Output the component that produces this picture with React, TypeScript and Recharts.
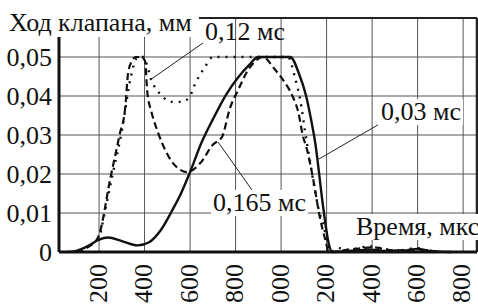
import React from "react";
import {
  LineChart,
  Line,
  XAxis,
  YAxis,
  CartesianGrid,
  ReferenceLine,
} from "recharts";

// ход клапана (мм) по времени (мкс), три длительности импульса
const timeSolid = [60, 100, 150, 200, 240, 300, 370, 420, 470, 520, 560, 600, 650, 700, 760, 810, 860, 900, 1040, 1080, 1110, 1130, 1150, 1185, 1210, 1225, 1300, 1400, 1450, 1550, 1600, 1650, 1750];
const liftSolid = [0, 0.0003, 0.0015, 0.0032, 0.0037, 0.0028, 0.0017, 0.0025, 0.0055, 0.0105, 0.015, 0.0205, 0.028, 0.034, 0.0405, 0.0447, 0.048, 0.05, 0.05, 0.0455, 0.04, 0.0345, 0.028, 0.0115, 0.002, 0, 0.0003, 0.0006, 0.0003, 0.0004, 0.0008, 0.0003, 0];

const timeDashed = [100, 150, 196, 250, 290, 315, 328, 345, 360, 385, 402, 412, 430, 460, 525, 587, 645, 700, 740, 776, 811, 855, 885, 921, 970, 1010, 1050, 1075, 1095, 1115, 1140, 1170, 1195, 1210, 1300, 1400, 1500, 1600, 1700];
const liftDashed = [0.0002, 0.0012, 0.0038, 0.019, 0.03, 0.037, 0.046, 0.049, 0.05, 0.05, 0.049, 0.041, 0.036, 0.0305, 0.0228, 0.0205, 0.0228, 0.0275, 0.0295, 0.037, 0.0415, 0.0467, 0.0488, 0.05, 0.047, 0.044, 0.04, 0.036, 0.03, 0.026, 0.019, 0.009, 0.003, 0, 0.0006, 0.0012, 0.0004, 0.0006, 0];

const timeDotted = [200, 260, 300, 340, 370, 395, 410, 430, 455, 480, 520, 565, 600, 620, 665, 700, 1030, 1060, 1090, 1105, 1125, 1145, 1165, 1190, 1205, 1220, 1250, 1300, 1350, 1400, 1450, 1500, 1600, 1650];
const liftDotted = [0.003, 0.02, 0.031, 0.045, 0.05, 0.05, 0.048, 0.044, 0.0415, 0.0398, 0.0385, 0.0385, 0.04, 0.0428, 0.0474, 0.05, 0.05, 0.045, 0.037, 0.031, 0.024, 0.017, 0.011, 0.006, 0.002, 0, 0.001, 0.0005, 0.0012, 0.0014, 0.0008, 0.0003, 0.001, 0.0002];

const timeTicks = [200, 400, 600, 800, 1000, 1200, 1400, 1600, 1800];
const liftTicks = [0, 0.01, 0.02, 0.03, 0.04, 0.05];

const toPoints = (t: number[], v: number[]) => t.map((x, i) => ({ t: x, v: v[i] }));
const solid = toPoints(timeSolid, liftSolid);
const dashed = toPoints(timeDashed, liftDashed);
const dotted = toPoints(timeDotted, liftDotted);

const FONT = "Liberation Serif, Times New Roman, DejaVu Serif, serif";
const X_MIN = 24;
const X_MAX = 1861;

const fmtLift = (v: number) => (v === 0 ? "0" : v.toFixed(2).replace(".", ","));

function TimeTick({ x, y, payload }: any) {
  return (
    <text
      x={0}
      y={0}
      dy="0.3em"
      transform={`translate(${x},${y + 4}) rotate(-90)`}
      textAnchor="end"
      style={{ fontFamily: FONT, fontSize: 26 }}
      fill="#111"
    >
      {payload.value}
    </text>
  );
}

const note: React.CSSProperties = {
  position: "absolute",
  fontFamily: FONT,
  fontSize: 26,
  lineHeight: "26px",
  color: "#111",
  background: "#fff",
  whiteSpace: "nowrap",
};

export default function App() {
  return (
    <div style={{ position: "absolute", left: 0, top: 0, width: 478, height: 304, background: "#fff", fontFamily: FONT }}>
      <LineChart width={478} height={304} margin={{ top: 18, right: 1, left: 0, bottom: 0 }}>
        <CartesianGrid stroke="#555" strokeWidth={1} />
        <XAxis
          type="number"
          dataKey="t"
          domain={[X_MIN, X_MAX]}
          ticks={timeTicks}
          allowDataOverflow
          height={52}
          tick={<TimeTick />}
          tickLine={false}
          axisLine={{ stroke: "#111", strokeWidth: 3 }}
        />
        <YAxis
          type="number"
          domain={[0, 0.06]}
          ticks={liftTicks}
          width={59}
          tickFormatter={fmtLift}
          tick={{ style: { fontFamily: FONT, fontSize: 26 }, fill: "#111" }}
          tickLine={false}
          tickMargin={1}
          axisLine={{ stroke: "#111", strokeWidth: 3 }}
        />
        <ReferenceLine y={0.06} stroke="#222" strokeWidth={2} />
        <ReferenceLine x={X_MAX} stroke="#222" strokeWidth={2.5} />
        <ReferenceLine segment={[{ x: 657, y: 0.0536 }, { x: 424, y: 0.0441 }]} stroke="#222" strokeWidth={1} />
        <ReferenceLine segment={[{ x: 1426, y: 0.0326 }, { x: 1165, y: 0.0238 }]} stroke="#222" strokeWidth={1} />
        <ReferenceLine segment={[{ x: 723, y: 0.0282 }, { x: 872, y: 0.0159 }]} stroke="#222" strokeWidth={1} />
        <Line
          data={dotted}
          dataKey="v"
          type="monotone"
          stroke="#111"
          strokeWidth={2.4}
          strokeDasharray="2 6"
          dot={false}
          isAnimationActive={false}
        />
        <Line
          data={dashed}
          dataKey="v"
          type="monotone"
          stroke="#111"
          strokeWidth={2.2}
          strokeDasharray="7 4"
          dot={false}
          isAnimationActive={false}
        />
        <Line
          data={solid}
          dataKey="v"
          type="monotone"
          stroke="#111"
          strokeWidth={2.4}
          dot={false}
          isAnimationActive={false}
        />
      </LineChart>
      <div
        style={{
          ...note,
          left: 0,
          top: 0,
          width: 199,
          height: 37,
          paddingLeft: 9,
          paddingTop: 10,
          boxSizing: "border-box",
        }}
      >
        Ход клапана, мм
      </div>
      <div style={{ ...note, left: 205, top: 19, background: "transparent" }}>0,12 мс</div>
      <div style={{ ...note, left: 379, top: 99, padding: "0 2px" }}>0,03 мс</div>
      <div style={{ ...note, left: 211, top: 190, padding: "0 2px" }}>0,165 мс</div>
      <div style={{ ...note, left: 356, top: 214, paddingRight: 4 }}>Время, мкс</div>
    </div>
  );
}
